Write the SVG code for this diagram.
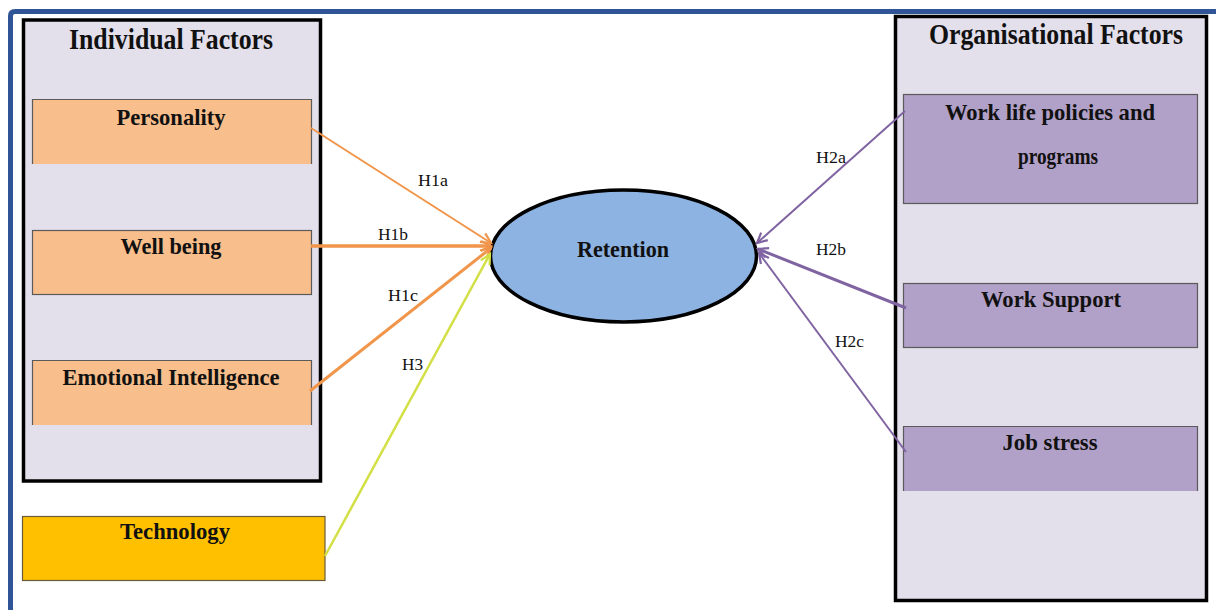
<svg xmlns="http://www.w3.org/2000/svg" width="1216" height="610" viewBox="0 0 1216 610">
  <style>
    .title { font-family: "Liberation Serif", "Times New Roman", serif; font-weight: bold; font-size: 29px; fill: #111; }
    .lbl { font-family: "Liberation Serif", "Times New Roman", serif; font-weight: bold; font-size: 24px; fill: #111; }
    .hyp { font-family: "Liberation Serif", "Times New Roman", serif; font-size: 17px; fill: #111; }
    .group { fill: #e3dfeb; stroke: #000; stroke-width: 3.5; }
    .ind { fill: #f8be8c; }
    .org { fill: #b1a0c7; }
    .edge { fill: none; stroke: #5a5a5a; stroke-width: 1.2; }
    .c-or { fill: none; stroke: #f0954a; }
    .c-pu { fill: none; stroke: #8064a2; }
    .c-ye { fill: none; stroke: #d3e045; }
  </style>
  <defs>
    <marker id="ah-or" markerUnits="userSpaceOnUse" markerWidth="14" markerHeight="14" refX="11" refY="6" orient="auto">
      <path d="M1,1 L11,6 L1,11" fill="none" stroke="#f0954a" stroke-width="2.2"/>
    </marker>
    <marker id="ah-pu" markerUnits="userSpaceOnUse" markerWidth="14" markerHeight="14" refX="11" refY="6" orient="auto">
      <path d="M1,1 L11,6 L1,11" fill="none" stroke="#8064a2" stroke-width="2.2"/>
    </marker>
    <marker id="ah-ye" markerUnits="userSpaceOnUse" markerWidth="14" markerHeight="14" refX="11" refY="6" orient="auto">
      <path d="M1,1 L11,6 L1,11" fill="none" stroke="#d3e045" stroke-width="2.2"/>
    </marker>
  </defs>

  <rect x="0" y="0" width="1216" height="610" fill="#ffffff"/>
  <path d="M10.5 610 V16 Q10.5 11.5 15 11.5 H1216" fill="none" stroke="#2f5597" stroke-width="5"/>

  <g id="individual-factors">
    <rect class="group" x="23.5" y="20" width="297" height="461"/>
    <text class="title" x="171" y="49" text-anchor="middle" textLength="204" lengthAdjust="spacingAndGlyphs">Individual Factors</text>
  </g>

  <g id="personality">
    <rect class="ind" x="32" y="99" width="280" height="65"/>
    <path class="edge" d="M32.5 164 V99.5 H311.5 V164"/>
    <text class="lbl" x="171" y="125" text-anchor="middle" textLength="109" lengthAdjust="spacingAndGlyphs">Personality</text>
  </g>

  <g id="well-being">
    <rect class="ind" x="32" y="230" width="280" height="65"/>
    <rect class="edge" x="32.5" y="230.5" width="279" height="64"/>
    <text class="lbl" x="171" y="254" text-anchor="middle" textLength="101" lengthAdjust="spacingAndGlyphs">Well being</text>
  </g>

  <g id="emotional-intelligence">
    <rect class="ind" x="32" y="360" width="280" height="65"/>
    <path class="edge" d="M32.5 425 V360.5 H311.5 V425"/>
    <text class="lbl" x="171" y="385" text-anchor="middle" textLength="217" lengthAdjust="spacingAndGlyphs">Emotional Intelligence</text>
  </g>

  <g id="technology">
    <rect x="22.5" y="516.5" width="302.5" height="64" fill="#ffc000" stroke="#6b5a3a" stroke-width="1.2"/>
    <text class="lbl" x="175" y="539" text-anchor="middle" textLength="110" lengthAdjust="spacingAndGlyphs">Technology</text>
  </g>

  <g id="organisational-factors">
    <rect class="group" x="895.5" y="16.5" width="311" height="584"/>
    <text class="title" x="1056" y="44" text-anchor="middle" textLength="254" lengthAdjust="spacingAndGlyphs">Organisational Factors</text>
  </g>

  <g id="work-life-policies">
    <rect class="org" x="903" y="94" width="295" height="110"/>
    <rect class="edge" x="903.5" y="94.5" width="294" height="109"/>
    <text class="lbl" x="1050" y="120" text-anchor="middle" textLength="210" lengthAdjust="spacingAndGlyphs">Work life policies and</text>
    <text class="lbl" x="1058" y="164" text-anchor="middle" textLength="80" lengthAdjust="spacingAndGlyphs">programs</text>
  </g>

  <g id="work-support">
    <rect class="org" x="903" y="283" width="295" height="65"/>
    <rect class="edge" x="903.5" y="283.5" width="294" height="64"/>
    <text class="lbl" x="1051" y="307" text-anchor="middle" textLength="140" lengthAdjust="spacingAndGlyphs">Work Support</text>
  </g>

  <g id="job-stress">
    <rect class="org" x="903" y="426" width="295" height="65"/>
    <path class="edge" d="M903.5 491 V426.5 H1197.5 V491"/>
    <text class="lbl" x="1050" y="450" text-anchor="middle" textLength="95" lengthAdjust="spacingAndGlyphs">Job stress</text>
  </g>

  <g id="retention">
    <ellipse cx="623.5" cy="256" rx="133" ry="66" fill="#8db3e2" stroke="#000" stroke-width="3.5"/>
    <text class="lbl" x="623" y="257" text-anchor="middle" textLength="92" lengthAdjust="spacingAndGlyphs">Retention</text>
  </g>

  <g id="connectors">
    <line class="c-or" x1="311" y1="128" x2="491" y2="243" stroke-width="2" marker-end="url(#ah-or)"/>
    <line class="c-or" x1="311" y1="246" x2="491" y2="246" stroke-width="3.5" marker-end="url(#ah-or)"/>
    <line class="c-or" x1="310" y1="391" x2="491" y2="248" stroke-width="3" marker-end="url(#ah-or)"/>
    <line class="c-ye" x1="325" y1="556" x2="490" y2="254" stroke-width="2.5" marker-end="url(#ah-ye)"/>
    <line class="c-pu" x1="905" y1="111" x2="757" y2="243" stroke-width="2" marker-end="url(#ah-pu)"/>
    <line class="c-pu" x1="906" y1="308" x2="758" y2="249" stroke-width="3" marker-end="url(#ah-pu)"/>
    <line class="c-pu" x1="906" y1="452" x2="759" y2="253" stroke-width="2" marker-end="url(#ah-pu)"/>

    <text class="hyp" x="418" y="186" textLength="30" lengthAdjust="spacingAndGlyphs">H1a</text>
    <text class="hyp" x="378" y="240" textLength="30" lengthAdjust="spacingAndGlyphs">H1b</text>
    <text class="hyp" x="388" y="301" textLength="30" lengthAdjust="spacingAndGlyphs">H1c</text>
    <text class="hyp" x="402" y="370" textLength="21" lengthAdjust="spacingAndGlyphs">H3</text>
    <text class="hyp" x="816" y="163" textLength="30" lengthAdjust="spacingAndGlyphs">H2a</text>
    <text class="hyp" x="816" y="255" textLength="30" lengthAdjust="spacingAndGlyphs">H2b</text>
    <text class="hyp" x="835" y="347" textLength="29" lengthAdjust="spacingAndGlyphs">H2c</text>
  </g>
</svg>
